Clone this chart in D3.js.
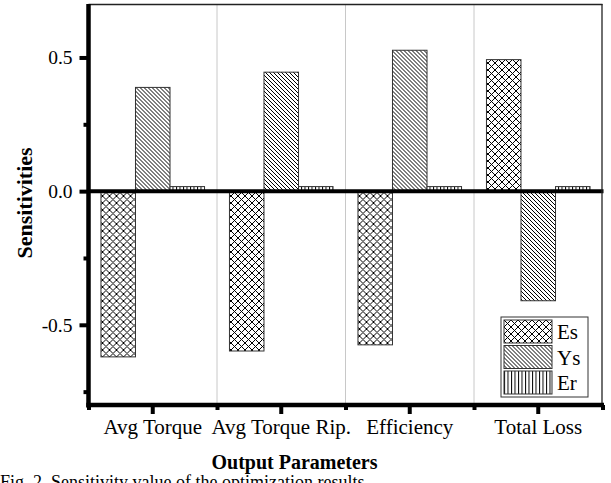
<!DOCTYPE html>
<html><head><meta charset="utf-8">
<script src="https://cdn.jsdelivr.net/npm/d3@7"></script>
<style>
body{margin:0;background:#fff;}
svg{display:block;}
text{font-family:"Liberation Serif","Times New Roman",serif;fill:#000;}
</style></head>
<body>
<svg id="c" width="611" height="483"></svg>
<script>
const categories = ["Avg Torque", "Avg Torque Rip.", "Efficiency", "Total Loss"];
const seriesNames = ["Es", "Ys", "Er"];
const esValues = [-0.620, -0.598, -0.575, 0.492];
const ysValues = [0.388, 0.445, 0.527, -0.410];
const erValues = [0.017, 0.017, 0.017, 0.017];
const yMajorTicks = [-0.5, 0.0, 0.5];
const yMinorTicks = [-0.75, -0.25, 0.25];
const xTitle = "Output Parameters";
const yTitle = "Sensitivities";
const caption = "Fig. 2. Sensitivity value of the optimization results";

const svg = d3.select("#c");
const L = 88.5, R = 602.5, T = 4, B = 405;

const defs = svg.append("defs");
const pEs = defs.append("pattern").attr("id","pEs").attr("patternUnits","userSpaceOnUse")
  .attr("width",7).attr("height",7);
pEs.append("rect").attr("width",7).attr("height",7).attr("fill","#fff");
pEs.append("path").attr("d","M0,0L7,7M7,0L0,7M-1,6L1,8M6,-1L8,1M-1,1L1,-1M6,8L8,6")
  .attr("stroke","#000").attr("stroke-width",1);
const pYs = defs.append("pattern").attr("id","pYs").attr("patternUnits","userSpaceOnUse")
  .attr("width",4).attr("height",4);
pYs.append("rect").attr("width",4).attr("height",4).attr("fill","#fff");
pYs.append("path").attr("d","M-1,-1L5,5M3,-1L5,1M-1,3L1,5")
  .attr("stroke","#000").attr("stroke-width",1);
const pEr = defs.append("pattern").attr("id","pEr").attr("patternUnits","userSpaceOnUse")
  .attr("width",3.5).attr("height",4);
pEr.append("rect").attr("width",3.5).attr("height",4).attr("fill","#fff");
pEr.append("path").attr("d","M0.5,0L0.5,4").attr("stroke","#000").attr("stroke-width",1);

const fills = {Es:"url(#pEs)", Ys:"url(#pYs)", Er:"url(#pEr)"};

const y = d3.scaleLinear().domain([-0.8, 0.7]).range([B, T]);
const x0 = d3.scaleBand().domain(categories).range([L, R]).padding(0);
const bw = x0.bandwidth();
const x1 = d3.scaleBand().domain(seriesNames).range([bw*0.097, bw*0.903]).padding(0);
const xb = d3.scaleLinear().domain([0, categories.length]).range([L, R]);

svg.append("g").selectAll("line").data([1,2,3]).join("line")
  .attr("x1", d=>xb(d)).attr("x2", d=>xb(d)).attr("y1", T).attr("y2", B)
  .attr("stroke","#c8c8c8").attr("stroke-width",1);

const data = categories.map((c,i)=>({cat:c, vals:[
  {s:"Es", v:esValues[i]}, {s:"Ys", v:ysValues[i]}, {s:"Er", v:erValues[i]}]}));
svg.append("g").selectAll("g").data(data).join("g")
  .attr("transform", d=>`translate(${x0(d.cat)},0)`)
  .selectAll("rect").data(d=>d.vals).join("rect")
  .attr("x", d=>x1(d.s)).attr("width", x1.bandwidth())
  .attr("y", d=>y(Math.max(0,d.v))).attr("height", d=>Math.abs(y(d.v)-y(0)))
  .attr("fill", d=>fills[d.s]).attr("stroke","#333").attr("stroke-width",1);

svg.append("line").attr("x1",L).attr("x2",R+1).attr("y1",y(0)).attr("y2",y(0))
  .attr("stroke","#000").attr("stroke-width",4);

svg.append("line").attr("x1",L).attr("x2",R).attr("y1",T+0.5).attr("y2",T+0.5)
  .attr("stroke","#222").attr("stroke-width",1.3);
svg.append("line").attr("x1",R-0.5).attr("x2",R-0.5).attr("y1",T).attr("y2",B)
  .attr("stroke","#222").attr("stroke-width",1.3);

const gy = svg.append("g").attr("transform",`translate(${L},0)`)
  .call(d3.axisLeft(y).tickValues(yMajorTicks).tickFormat(d=>d.toFixed(1))
    .tickSize(9).tickSizeOuter(0).tickPadding(7));
gy.select(".domain").remove();
gy.selectAll(".tick line").attr("stroke","#000").attr("stroke-width",4);
gy.selectAll(".tick text").attr("font-size",19.5).attr("font-family","Liberation Serif, serif");
const gym = svg.append("g").attr("transform",`translate(${L},0)`)
  .call(d3.axisLeft(y).tickValues(yMinorTicks).tickFormat("").tickSize(5).tickSizeOuter(0));
gym.select(".domain").remove();
gym.selectAll(".tick line").attr("stroke","#000").attr("stroke-width",4);
svg.append("line").attr("x1",L).attr("x2",L).attr("y1",T).attr("y2",B+2.5)
  .attr("stroke","#000").attr("stroke-width",4.5);

const gx = svg.append("g").attr("transform",`translate(0,${B})`)
  .call(d3.axisBottom(x0).tickSize(9).tickSizeOuter(0));
gx.select(".domain").remove();
gx.selectAll(".tick line").attr("stroke","#000").attr("stroke-width",4);
gx.selectAll(".tick text").attr("font-size",21).attr("font-family","Liberation Serif, serif")
  .attr("y",29).attr("dy",0);
const gxm = svg.append("g").attr("transform",`translate(0,${B})`)
  .call(d3.axisBottom(xb).tickValues(d3.range(categories.length+1)).tickFormat("").tickSize(5).tickSizeOuter(0));
gxm.select(".domain").remove();
gxm.selectAll(".tick line").attr("stroke","#000").attr("stroke-width",4);
svg.append("line").attr("x1",L-2.2).attr("x2",R+1.5).attr("y1",B).attr("y2",B)
  .attr("stroke","#000").attr("stroke-width",4.5);

svg.append("text").attr("x",294.5).attr("y",469).attr("text-anchor","middle")
  .attr("font-size",20).attr("font-weight","bold").text(xTitle);
svg.append("text").attr("transform","translate(32,203) rotate(-90)").attr("text-anchor","middle")
  .attr("font-size",22).attr("font-weight","bold").text(yTitle);
svg.append("text").attr("x",0).attr("y",488).attr("font-size",18).text(caption);

const lg = svg.append("g").attr("transform","translate(501,317)");
lg.append("rect").attr("x",0).attr("y",0).attr("width",87).attr("height",80)
  .attr("fill","#fff").attr("stroke","#333").attr("stroke-width",1);
const li = lg.selectAll("g").data(seriesNames).join("g")
  .attr("transform",(d,i)=>`translate(3,${3+i*25.5})`);
li.append("rect").attr("width",48).attr("height",23).attr("fill",d=>fills[d])
  .attr("stroke","#333").attr("stroke-width",1);
li.append("text").attr("x",53).attr("y",12).attr("dy","0.35em").attr("font-size",21).text(d=>d);
</script>
</body></html>
